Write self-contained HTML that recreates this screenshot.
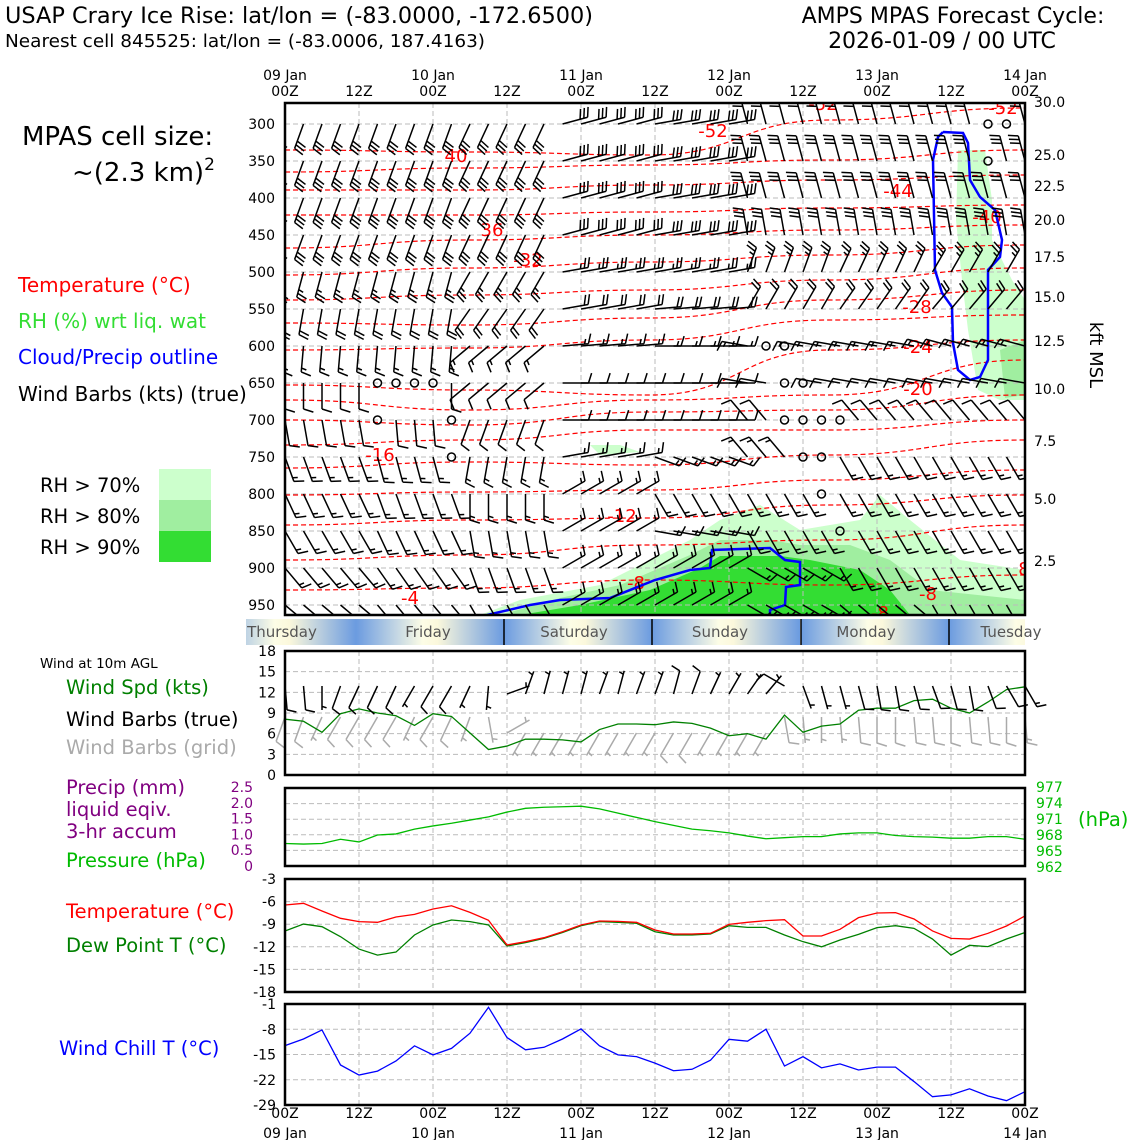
<!DOCTYPE html>
<html><head><meta charset="utf-8"><style>
body{margin:0;background:#fff}
svg{display:block;font-family:"DejaVu Sans","Liberation Sans",sans-serif}
</style></head><body>
<svg id="c" width="1140" height="1140" viewBox="0 0 1140 1140" xmlns="http://www.w3.org/2000/svg">
<defs>
<linearGradient id="day" x1="0" x2="1" y1="0" y2="0">
<stop offset="0" stop-color="#6b9be0"/><stop offset="0.45" stop-color="#fdfde6"/><stop offset="0.55" stop-color="#fbf8dc"/><stop offset="1" stop-color="#6b9be0"/>
</linearGradient>
<clipPath id="mainclip"><rect x="285" y="103" width="740" height="512"/></clipPath>
</defs>
<text x="5" y="23" font-size="22" textLength="588" lengthAdjust="spacingAndGlyphs">USAP Crary Ice Rise: lat/lon = (-83.0000, -172.6500)</text>
<text x="5" y="47" font-size="18" textLength="480" lengthAdjust="spacingAndGlyphs">Nearest cell 845525: lat/lon = (-83.0006, 187.4163)</text>
<text x="953" y="23" font-size="22" text-anchor="middle">AMPS MPAS Forecast Cycle:</text>
<text x="942" y="48" font-size="22" text-anchor="middle">2026-01-09 / 00 UTC</text>
<text x="22" y="145" font-size="26">MPAS cell size:</text>
<text x="72" y="181" font-size="26">~(2.3 km)<tspan dy="-11" font-size="17">2</tspan></text>
<text x="18" y="292" font-size="20" fill="#ff0000">Temperature (°C)</text>
<text x="18" y="328" font-size="20" fill="#33dd33">RH (%) wrt liq. wat</text>
<text x="18" y="364" font-size="20" fill="#0000ff">Cloud/Precip outline</text>
<text x="18" y="401" font-size="20">Wind Barbs (kts) (true)</text>
<rect x="159" y="469" width="52" height="31" fill="#ccffcc"/>
<rect x="159" y="500" width="52" height="31" fill="#a0eea0"/>
<rect x="159" y="531" width="52" height="31" fill="#33dd33"/>
<text x="40" y="492" font-size="19.5">RH &gt; 70%</text>
<text x="40" y="523" font-size="19.5">RH &gt; 80%</text>
<text x="40" y="554" font-size="19.5">RH &gt; 90%</text>
<text x="90" y="638" font-size="18">Local Weekday</text>
<text x="40" y="668" font-size="13.5">Wind at 10m AGL</text>
<text x="66" y="694" font-size="19.5" fill="#008000">Wind Spd (kts)</text>
<text x="66" y="726" font-size="19.5">Wind Barbs (true)</text>
<text x="66" y="754" font-size="19.5" fill="#aaaaaa">Wind Barbs (grid)</text>
<text x="66" y="794" font-size="19.5" fill="#800080">Precip (mm)</text>
<text x="66" y="816" font-size="19.5" fill="#800080">liquid eqiv.</text>
<text x="66" y="838" font-size="19.5" fill="#800080">3-hr accum</text>
<text x="66" y="867" font-size="19.5" fill="#00bb00">Pressure (hPa)</text>
<text x="66" y="918" font-size="19.5" fill="#ff0000">Temperature (°C)</text>
<text x="66" y="952" font-size="19.5" fill="#008000">Dew Point T (°C)</text>
<text x="59" y="1055" font-size="19.5" fill="#0000ff">Wind Chill T (°C)</text>
<text x="1078" y="826" font-size="19.5" fill="#00bb00">(hPa)</text>
<text x="1090" y="355" font-size="18" transform="rotate(90 1090 355)" text-anchor="middle">kft MSL</text>
<g id="g"></g>
</svg>
<script>
// ---------- data ----------
const timeLabelsTop = ["09 Jan","10 Jan","11 Jan","12 Jan","13 Jan","14 Jan"];
const levels = [300,350,400,450,500,550,600,650,700,750,800,850,900,950];
const kftLabels = ["30.0","25.0","22.5","20.0","17.5","15.0","12.5","10.0","7.5","5.0","2.5"];
const kftY = [102,155,186,220,257,297,341,389,441,499,561];
const weekdays = ["Thursday","Friday","Saturday","Sunday","Monday","Tuesday"];
const windSpd = [8.1,7.8,6.2,8.9,9.6,9.0,8.6,7.2,8.9,8.5,6.1,3.7,4.2,5.2,5.2,5.1,4.8,6.6,7.4,7.4,7.3,7.7,7.5,6.8,5.7,6.0,5.2,8.7,6.2,7.1,7.4,9.4,9.7,9.7,10.8,11.0,9.7,9.0,10.6,12.4,12.8];
const pressure = [966.4,966.3,966.4,967.2,966.7,968.0,968.2,969.1,969.7,970.2,970.8,971.4,972.3,973.0,973.2,973.3,973.4,972.9,972.1,971.3,970.5,969.8,969.1,968.8,968.4,967.8,967.3,967.5,967.7,967.7,968.2,968.4,968.4,967.9,967.7,967.6,967.4,967.4,967.7,967.7,967.2];
const temp = [-6.45,-6.23,-7.25,-8.22,-8.66,-8.75,-8.04,-7.69,-6.98,-6.55,-7.43,-8.48,-11.76,-11.32,-10.79,-10.0,-9.1,-8.58,-8.62,-8.75,-9.77,-10.3,-10.3,-10.21,-9.02,-8.75,-8.53,-8.4,-10.57,-10.57,-9.68,-8.13,-7.51,-7.47,-8.31,-9.9,-10.88,-10.97,-10.21,-9.24,-7.91];
const dewpt = [-9.9,-8.98,-9.33,-10.65,-12.3,-13.1,-12.7,-10.43,-9.1,-8.44,-8.66,-9.1,-11.9,-11.45,-10.88,-10.1,-9.2,-8.66,-8.75,-8.88,-10.0,-10.43,-10.43,-10.3,-9.2,-9.42,-9.42,-10.43,-11.32,-12.0,-11.1,-10.35,-9.46,-9.2,-9.55,-10.97,-13.1,-11.8,-11.98,-10.97,-10.1];
const windChill = [-12.55,-10.7,-8.2,-17.9,-20.7,-19.6,-16.8,-12.6,-15.1,-13.3,-9.1,-1.9,-10.3,-13.7,-13.0,-10.7,-7.9,-12.6,-15.1,-15.6,-17.4,-19.5,-19.1,-16.6,-10.8,-11.3,-8.0,-18.2,-15.6,-18.7,-17.6,-19.3,-18.5,-18.5,-22.5,-26.7,-26.2,-24.5,-26.5,-27.8,-25.3];
const barbDir = [
[200,200,205,75,80,345,345,345,345],
[200,200,205,75,80,345,345,345,345],
[200,200,205,75,80,345,345,345,345],
[200,200,205,75,80,350,350,350,350],
[195,195,210,80,80,20,25,30,30],
[190,190,215,80,85,30,35,40,40],
[185,185,230,85,90,280,280,285,285],
[180,180,230,90,90,280,280,280,280],
[170,175,200,90,90,320,320,320,320],
[160,165,190,80,110,320,150,150,150],
[155,160,180,60,150,150,150,150,150],
[150,155,170,60,100,150,150,150,150],
[140,145,160,60,60,120,150,150,150],
[130,140,150,60,60,120,130,150,150]];
const barbSpd = [30,30,30,30,25,20,15,10,10,15,15,15,15,15];
const calmCol = [38,39,38,26,27,5,6,7,8,27,28,5,9,27,28,29,30,9,28,29,29,30];
const calmLev = [300,300,350,600,600,650,650,650,650,650,650,700,700,700,700,700,700,750,750,750,800,850];
const sfcDir = [175,175,180,200,205,205,205,210,210,210,205,185,70,20,15,15,15,20,15,20,20,15,20,25,30,35,40,300,160,165,165,165,170,170,165,160,165,170,160,150,150];
const gridDir = [200,200,205,210,210,210,210,205,210,205,200,170,60,210,210,210,210,210,210,210,210,210,210,210,210,210,210,170,175,180,175,175,180,180,175,175,180,175,175,180,175];
const contourX = [285,470,650,830,1025];
const contours = [
[150,152,155,120,108],[172,168,165,160,150],[190,190,185,180,175],[215,215,212,208,205],
[248,240,235,230,225],[275,268,262,255,245],[300,295,290,280,268],[323,325,318,300,290],
[350,348,340,320,315],[385,390,395,350,340],[400,410,400,395,360],[420,425,412,410,395],
[445,440,430,430,420],[468,462,465,455,440],[495,492,490,480,470],[525,520,518,505,495],
[560,555,545,540,525],[590,588,580,585,575]];
const cLabels = ["40","-52","-52","-52","-44","-40","36","-32","-28","-24","-20","-16","-12","-8","-8","-4","8","-8"];
const cLabelX = [456,713,823,1003,898,987,492,528,917,918,918,380,622,636,928,410,1024,880];
const cLabelY = [155,130,103,107,190,216,229,259,306,346,388,454,515,582,593,597,568,612];

// ---------- helpers ----------
const NS="http://www.w3.org/2000/svg";
const G=document.getElementById('g');
function mk(tag,attrs,parent){const e=document.createElementNS(NS,tag);for(const k in attrs)e.setAttribute(k,attrs[k]);(parent||G).appendChild(e);return e;}
const X0=285,X1=1025,N=40;
function tx(i){return X0+(X1-X0)*i/N;}
function py(p){return 124+(p-300)*0.74;}
function lin(v,v0,v1,y0,y1){return y0+(v-v0)*(y1-y0)/(v1-v0);}
function barb(x,y,dir,spd,L){
  const r=dir*Math.PI/180, dx=Math.sin(r), dy=-Math.cos(r);
  const ex=x+dx*L, ey=y+dy*L;
  let d=`M${x},${y}L${ex},${ey}`;
  const px=dy, pyv=-dx;
  let s=spd, pos=0;
  while(s>=7.5){const bx=ex-dx*pos,by=ey-dy*pos;d+=`M${bx},${by}L${bx+px*L*0.38+dx*L*0.12},${by+pyv*L*0.38+dy*L*0.12}`;s-=10;pos+=L*0.15;}
  if(s>=2.5){if(pos===0)pos=L*0.15;const bx=ex-dx*pos,by=ey-dy*pos;d+=`M${bx},${by}L${bx+px*L*0.19+dx*L*0.06},${by+pyv*L*0.19+dy*L*0.06}`;}
  return d;
}

// ---------- main panel ----------
const main=mk('g',{'clip-path':'url(#mainclip)'});


const rh70=[[[480,615],[520,600],[600,585],[690,540],[720,520],[760,505],[800,530],[860,520],[880,495],[910,520],[960,560],[1025,570],[1025,615]],
 [[958,150],[985,150],[992,200],[992,240],[1012,280],[1025,300],[1025,400],[1000,400],[978,390],[968,330],[962,280],[956,220]],
 [[590,445],[620,445],[640,452],[600,455]]];
const rh80=[[[500,615],[560,598],[620,585],[690,555],[720,540],[770,540],[800,545],[850,545],[890,560],[930,590],[1025,600],[1025,615]],
 [[1000,350],[1025,340],[1025,395],[1005,398]]];
const rh90=[[[520,615],[580,605],[650,590],[700,568],[720,556],[780,556],[810,560],[860,570],[890,590],[910,615]]];
[[rh70,'#ccffcc'],[rh80,'#a0eea0'],[rh90,'#33dd33']].forEach(([set,col])=>set.forEach(poly=>{
  const e=mk('polygon',{points:poly.map(p=>p.join(',')).join(' '),fill:col},main);
  
  
}));
for(let i=0;i<=N;i+=4){const e=mk('line',{x1:tx(i),x2:tx(i),y1:103,y2:615,stroke:'#bbb','stroke-dasharray':'5,3','stroke-width':1},main);}
levels.forEach(p=>{const e=mk('line',{x1:X0,x2:X1,y1:py(p),y2:py(p),stroke:'#bbb','stroke-dasharray':'5,3','stroke-width':1},main);});
contours.forEach(c=>{
  let d=`M${contourX[0]},${c[0]}`;
  for(let k=1;k<c.length;k++){const xm=(contourX[k-1]+contourX[k])/2;d+=`C${xm},${c[k-1]} ${xm},${c[k]} ${contourX[k]},${c[k]}`;}
  const e=mk('path',{d,fill:'none',stroke:'#ff0000','stroke-width':1.2,'stroke-dasharray':'5,3'},main);
  
  
});
cLabels.forEach((t,k)=>{const e=mk('text',{x:cLabelX[k],y:cLabelY[k]+7,'font-size':18,fill:'#ff0000','text-anchor':'middle'},main);e.textContent=t;});
const cloud1=[[487,615],[530,605],[560,600],[610,598],[655,580],[690,570],[710,568],[712,550],[770,548],[785,560],[800,562],[800,585],[786,587],[785,605],[770,610],[770,620]];
const cloud2=[[943,132],[963,133],[968,143],[970,180],[980,197],[995,210],[1002,240],[1000,257],[988,270],[988,360],[980,377],[970,380],[958,370],[953,343],[952,307],[942,293],[935,270],[933,160],[938,137],[943,132]];
[cloud1,cloud2].forEach(cl=>{const e=mk('polyline',{points:cl.map(p=>p.join(',')).join(' '),fill:'none',stroke:'#0000ff','stroke-width':2.5},main);});
const calmSet=new Set(calmCol.map((c,k)=>c+'_'+calmLev[k]));
levels.forEach((p,li)=>{
  for(let i=0;i<=N;i++){
    const y=py(p), x=tx(i);
    if(calmSet.has(i+'_'+p)){const e=mk('circle',{cx:x,cy:y,r:4,fill:'none',stroke:'#000','stroke-width':1.5},main);continue;}
    const dir=barbDir[li][Math.min(8,Math.floor(i/5))];
    const e=mk('path',{d:barb(x,y,dir,barbSpd[li],26),stroke:'#000','stroke-width':1.5,fill:'none'},main);
    
    
  }
});
const mb=mk('rect',{x:285,y:103,width:740,height:512,fill:'none',stroke:'#000','stroke-width':2.5});

levels.forEach(p=>{const e=mk('text',{x:275,y:py(p)+5,'font-size':14,'text-anchor':'end'});e.textContent=p;});
kftLabels.forEach((t,k)=>{const e=mk('text',{x:1034,y:kftY[k]+5,'font-size':14});e.textContent=t;});
for(let i=0;i<=N;i+=4){
  const day=i%8===0;
  if(day){const e=mk('text',{x:tx(i),y:80,'font-size':14,'text-anchor':'middle'});e.textContent=timeLabelsTop[i/8];}
  const e2=mk('text',{x:tx(i),y:96,'font-size':14,'text-anchor':'middle'});e2.textContent=day?'00Z':'12Z';
  const e3=mk('text',{x:tx(i),y:1118,'font-size':14,'text-anchor':'middle'});e3.textContent=day?'00Z':'12Z';
  if(day){const e4=mk('text',{x:tx(i),y:1138,'font-size':14,'text-anchor':'middle'});e4.textContent=timeLabelsTop[i/8];}
}
const dayEdges=[208,356,504,652,801,949,1097];
for(let k=0;k<6;k++){
  const r=mk('rect',{x:dayEdges[k],y:619,width:148,height:26,fill:'url(#day)'});
  
}
mk('rect',{x:0,y:619,width:246,height:26,fill:'#fff'});
mk('rect',{x:1025,y:619,width:115,height:26,fill:'#fff'});
[504,652,801,949].forEach(x=>{const e=mk('line',{x1:x,x2:x,y1:619,y2:645,stroke:'#000','stroke-width':1.5});});
const wdX=[282,428,574,720,866,1011];
weekdays.forEach((w,k)=>{const e=mk('text',{x:wdX[k],y:637,'font-size':15,fill:'#555','text-anchor':'middle'});e.textContent=w;});

// ---------- lower panels ----------
function panel(name,top,bot,ticks,v0,v1,fmt,tickColor){
  const g=mk('g',{});
  ticks.forEach(t=>{const y=lin(t,v0,v1,bot,top);
    if(y>top+1&&y<bot-1){const l=mk('line',{x1:X0,x2:X1,y1:y,y2:y,stroke:'#bbb','stroke-dasharray':'5,3'},g);}
    if(fmt){const e=mk('text',{x:276,y:y+5,'font-size':14,'text-anchor':'end',fill:tickColor||'#000'},g);e.textContent=t;}
  });
  for(let i=4;i<N;i+=4){const l=mk('line',{x1:tx(i),x2:tx(i),y1:top,y2:bot,stroke:'#bbb','stroke-dasharray':'5,3'},g);}
  return g;
}
function series(g,arr,v0,v1,top,bot,color,name){
  const pts=arr.map((v,i)=>tx(i)+','+lin(v,v0,v1,bot,top)).join(' ');
  const e=mk('polyline',{points:pts,fill:'none',stroke:color,'stroke-width':1.3},g);
  
  
}
function frame(top,bot,name){const r=mk('rect',{x:285,y:top,width:740,height:bot-top,fill:'none',stroke:'#000','stroke-width':2.5});}
const gw=panel('wind-panel',651,775,[0,3,6,9,12,15,18],0,18,true);
for(let i=0;i<=N;i++){
  const gy=(i>=12&&i<=26)?733:717;
  const e=mk('path',{d:barb(tx(i),gy,gridDir[i],windSpd[i],26),stroke:'#aaaaaa','stroke-width':1.5,fill:'none'},gw);
  
}
series(gw,windSpd,0,18,651,775,'#008000','wind-speed-line');
for(let i=0;i<=N;i++){
  const by=(i>=12&&i<=26)?694:686;
  const e=mk('path',{d:barb(tx(i),by,sfcDir[i],windSpd[i],24),stroke:'#000','stroke-width':1.5,fill:'none'},gw);
  
}
frame(651,775,'wind-panel-frame');
const gp=panel('pressure-panel',788,866,[0,0.5,1.0,1.5,2.0,2.5],0,2.5,false);
const precipTicks=["0","0.5","1.0","1.5","2.0","2.5"];
precipTicks.forEach((t,k)=>{const e=mk('text',{x:253,y:lin(k*0.5,0,2.5,866,787)+5,'font-size':14,'text-anchor':'end',fill:'#800080'},gp);e.textContent=t;});
const presTicks=[962,965,968,971,974,977];
presTicks.forEach(t=>{const e=mk('text',{x:1036,y:lin(t,962,977,867,787)+5,'font-size':14,fill:'#00bb00'},gp);e.textContent=t;});
series(gp,pressure,962,977,787,867,'#00bb00','pressure-line');
frame(788,866,'pressure-panel-frame');
const gt=panel('temperature-panel',879,992,[-18,-15,-12,-9,-6,-3],-18,-3,true);
series(gt,dewpt,-18,-3,879,992,'#008000','dewpoint-line');
series(gt,temp,-18,-3,879,992,'#ff0000','temperature-line');
frame(879,992,'temperature-panel-frame');
const gc=panel('windchill-panel',1004,1105,[-29,-22,-15,-8,-1],-29,-1,true);
series(gc,windChill,-29,-1,1004,1105,'#0000ff','windchill-line');
frame(1004,1105,'windchill-panel-frame');
</script>
</body></html>
